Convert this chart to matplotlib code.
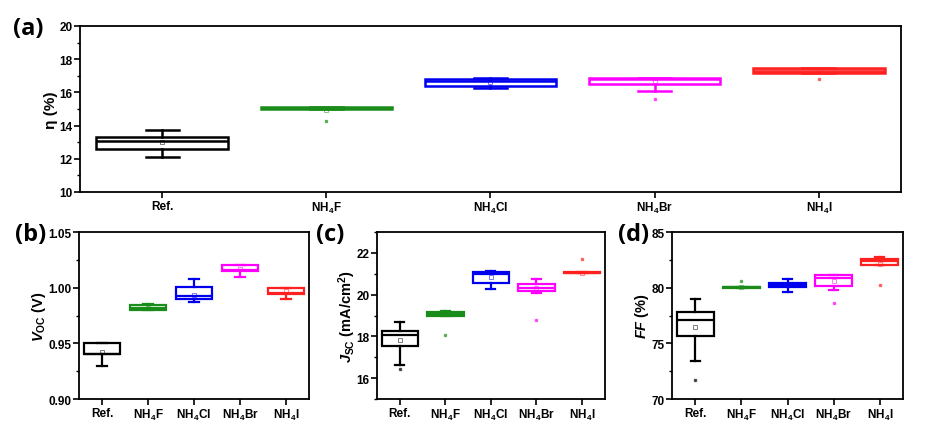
import matplotlib
matplotlib.use("Agg")
import matplotlib.pyplot as plt
from matplotlib.ticker import MultipleLocator

plt.rcParams['font.family'] = ['Liberation Sans', 'DejaVu Sans']
plt.rcParams['font.weight'] = 'bold'
plt.rcParams['mathtext.fontset'] = 'custom'
plt.rcParams['mathtext.rm'] = 'Liberation Sans:bold'
plt.rcParams['mathtext.it'] = 'Liberation Sans:bold:italic'
plt.rcParams['mathtext.bf'] = 'Liberation Sans:bold'
plt.rcParams['mathtext.default'] = 'rm'

categories = ['Ref.', 'NH$_4$F', 'NH$_4$Cl', 'NH$_4$Br', 'NH$_4$I']
colors = ['black', '#1a8c1a', '#0000ee', '#ff00ff', '#ff2020']

# (a) efficiency
eff_q1 = [12.6, 15.0, 16.4, 16.5, 17.17]
eff_med = [13.1, 15.05, 16.7, 16.8, 17.2]
eff_q3 = [13.3, 15.1, 16.8, 16.85, 17.45]
eff_lo = [12.1, 15.0, 16.25, 16.07, 17.17]
eff_hi = [13.75, 15.1, 16.87, 16.85, 17.45]
eff_mean = [13.0, 14.95, 16.6, 16.6, 17.3]
eff_out = [[], [14.25], [], [15.6], [16.8]]

# (b) Voc
voc_q1 = [0.940, 0.980, 0.9894, 1.015, 0.9945]
voc_med = [0.940, 0.982, 0.9924, 1.016, 0.9955]
voc_q3 = [0.950, 0.984, 1.0002, 1.020, 1.000]
voc_lo = [0.930, 0.980, 0.987, 1.0098, 0.990]
voc_hi = [0.950, 0.985, 1.008, 1.020, 1.000]
voc_mean = [0.942, 0.982, 0.993, 1.017, 0.997]
voc_out = [[], [], [], [], []]

# (c) Jsc
jsc_q1 = [17.52, 19.0, 20.56, 20.18, 21.02]
jsc_med = [18.05, 19.08, 21.0, 20.34, 21.05]
jsc_q3 = [18.24, 19.15, 21.07, 20.53, 21.08]
jsc_lo = [16.64, 19.0, 20.25, 20.08, 21.02]
jsc_hi = [18.69, 19.2, 21.12, 20.77, 21.08]
jsc_mean = [17.84, 19.05, 20.85, 20.3, 21.05]
jsc_out = [[16.43], [18.08], [], [18.8], [21.73]]

# (d) FF
ff_q1 = [75.63, 79.95, 80.03, 80.15, 82.0]
ff_med = [77.14, 80.02, 80.24, 80.9, 82.4]
ff_q3 = [77.86, 80.1, 80.45, 81.13, 82.6]
ff_lo = [73.44, 79.95, 79.6, 79.8, 82.0]
ff_hi = [78.94, 80.1, 80.8, 81.13, 82.8]
ff_mean = [76.47, 80.1, 80.2, 80.6, 82.1]
ff_out = [[71.7], [80.6], [], [78.6], [80.24]]


def draw(ax, q1, med, q3, lo, hi, mean, out, fills=None, lw=1.6):
    for i in range(len(categories)):
        st = [dict(q1=q1[i], med=med[i], q3=q3[i], whislo=lo[i], whishi=hi[i],
                   mean=mean[i], fliers=out[i])]
        c = colors[i]
        fc = 'white' if fills is None else fills[i]
        ax.bxp(st, positions=[i], widths=0.8, showmeans=True, patch_artist=True,
               boxprops=dict(facecolor=fc, edgecolor=c, linewidth=lw),
               medianprops=dict(color=c, linewidth=lw),
               whiskerprops=dict(color=c, linewidth=lw),
               capprops=dict(color=c, linewidth=lw),
               meanprops=dict(marker='s', markersize=2.5, markerfacecolor='none',
                              markeredgecolor=c, markeredgewidth=0.6, alpha=0.6),
               flierprops=dict(marker='s', markersize=1.8, markerfacecolor=c,
                               markeredgecolor=c, alpha=0.6),
               capwidths=0.2)
    ax.set_xlim(-0.5, 4.5)
    ax.set_xticks(range(len(categories)))
    ax.set_xticklabels(categories)
    for s in ['top', 'right', 'left', 'bottom']:
        ax.spines[s].set_linewidth(1.3)
    ax.tick_params(direction='out', length=4, width=1.2, labelsize=8.5, pad=1.5)
    ax.tick_params(which='minor', direction='out', length=2.5, width=1)
    for lab in ax.get_xticklabels() + ax.get_yticklabels():
        lab.set_fontweight('bold')


fig = plt.figure(figsize=(9.48, 4.39), dpi=100)
axa = fig.add_axes([0.0844, 0.5604, 0.866, 0.3781])
axb = fig.add_axes([0.0833, 0.0888, 0.2427, 0.3804])
axc = fig.add_axes([0.3977, 0.0888, 0.2403, 0.3804])
axd = fig.add_axes([0.7089, 0.0888, 0.2436, 0.3804])

draw(axa, eff_q1, eff_med, eff_q3, eff_lo, eff_hi, eff_mean, eff_out,
     fills=['white', 'white', 'white', 'white', '#ff4848'], lw=1.8)
axa.set_ylim(10, 20)
axa.yaxis.set_major_locator(MultipleLocator(2))
axa.yaxis.set_minor_locator(MultipleLocator(1))
axa.set_ylabel('η (%)', fontsize=11, fontweight='bold', labelpad=1)

draw(axb, voc_q1, voc_med, voc_q3, voc_lo, voc_hi, voc_mean, voc_out)
axb.set_ylim(0.90, 1.05)
axb.yaxis.set_major_locator(MultipleLocator(0.05))
axb.yaxis.set_minor_locator(MultipleLocator(0.025))
axb.yaxis.set_major_formatter(matplotlib.ticker.FormatStrFormatter('%.2f'))
axb.set_ylabel('$\\mathit{V}_{\\mathrm{OC}}$ (V)', fontsize=10.5, fontweight='bold', labelpad=0)

draw(axc, jsc_q1, jsc_med, jsc_q3, jsc_lo, jsc_hi, jsc_mean, jsc_out)
axc.set_ylim(15, 23)
axc.yaxis.set_major_locator(MultipleLocator(2))
axc.yaxis.set_minor_locator(MultipleLocator(1))
axc.set_ylabel('$\\mathit{J}_{\\mathrm{SC}}$ (mA/cm$^2$)', fontsize=10.5, fontweight='bold', labelpad=-1)

draw(axd, ff_q1, ff_med, ff_q3, ff_lo, ff_hi, ff_mean, ff_out)
axd.set_ylim(70, 85)
axd.yaxis.set_major_locator(MultipleLocator(5))
axd.yaxis.set_minor_locator(MultipleLocator(2.5))
axd.set_ylabel('$\\mathit{FF}$ (%)', fontsize=10.5, fontweight='bold', labelpad=0)

for lbl, x, y in [('(a)', 0.014, 0.935), ('(b)', 0.016, 0.465), ('(c)', 0.333, 0.465), ('(d)', 0.652, 0.465)]:
    fig.text(x, y, lbl, fontsize=17, fontweight='bold', va='center', ha='left',
             family=['Open Sans', 'DejaVu Sans'])

fig.savefig('out.png', dpi=100)
